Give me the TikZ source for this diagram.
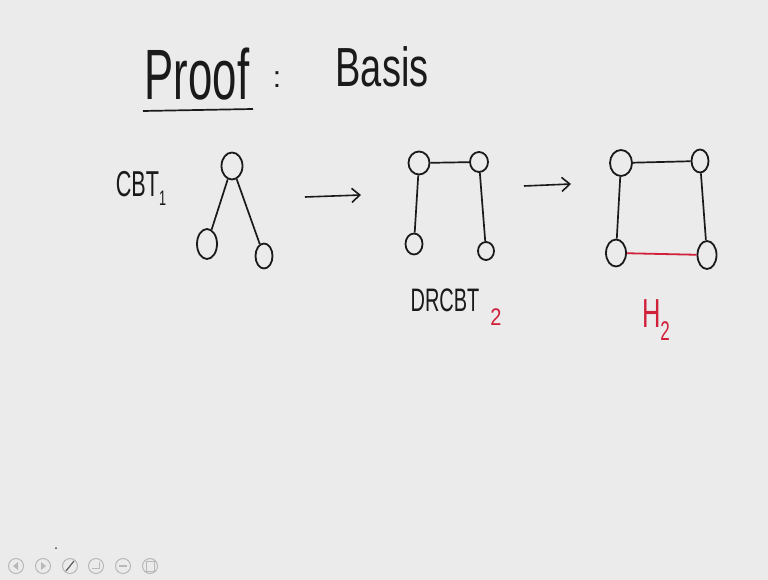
\documentclass[tikz,border=0pt]{standalone}
\usepackage{fontspec}
\setmainfont{Liberation Sans}
\usetikzlibrary{shapes.geometric,arrows.meta}
\definecolor{bg}{HTML}{EBEBEB}
\definecolor{ink}{HTML}{1A1A1A}
\definecolor{redink}{HTML}{D0203A}
\definecolor{tool}{HTML}{B8B8B8}
\tikzset{
  vert/.style={draw=ink, line width=1.8pt, ellipse, inner sep=0pt},
  edge/.style={draw=ink, line width=1.7pt},
  redge/.style={draw=redink, line width=1.8pt},
  harrow/.style={draw=ink, line width=1.6pt, -{Straight Barb[length=8pt,width=14pt]}},
  hand/.style={text=ink, inner sep=0pt},
  toolic/.style={draw=tool, line width=1pt, circle, minimum size=15pt, inner sep=0pt},
}
\begin{document}
\begin{tikzpicture}[x=1pt,y=-1pt]
\fill[bg] (0,0) rectangle (768,580);
\useasboundingbox (0,0) rectangle (768,580);

% title
\node[hand] (proof) at (197,74) {\fontsize{46}{50}\selectfont\scalebox{0.95}[1.55]{Proof}};
\coordinate (ulA) at (143,111);
\coordinate (ulB) at (253,109);
\draw[edge] (ulA) -- (ulB);
\node[hand] (colon) at (277,80) {\fontsize{30}{34}\selectfont :};
\node[hand] (basis) at (382,67) {\fontsize{38}{42}\selectfont\scalebox{1}[1.45]{Basis}};

% CBT_1
\node[hand] (cbt) at (141,188) {\fontsize{24}{28}\selectfont\scalebox{0.9}[1.5]{CBT\raisebox{-0.25em}{\fontsize{14}{16}\selectfont 1}}};
\node[vert, minimum width=21pt, minimum height=27pt] (r) at (232,166) {};
\node[vert, minimum width=20pt, minimum height=30pt] (l) at (207,244) {};
\node[vert, minimum width=17pt, minimum height=25pt] (rc) at (264,256) {};
\draw[edge] (r) -- (l);
\draw[edge] (r) -- (rc);

% arrow 1
\coordinate (a1s) at (305,197);
\coordinate (a1e) at (361,195);
\draw[harrow] (a1s) -- (a1e);

% DRCBT_2
\node[vert, minimum width=21pt, minimum height=23pt] (dtl) at (419,163) {};
\node[vert, minimum width=18pt, minimum height=20pt] (dtr) at (479,162) {};
\node[vert, minimum width=17pt, minimum height=21pt] (dbl) at (414,244) {};
\node[vert, minimum width=16pt, minimum height=18pt] (dbr) at (486,251) {};
\draw[edge] (dtl) -- (dtr);
\draw[edge] (dtl) -- (dbl);
\draw[edge] (dtr) -- (dbr);
\node[hand] (drcbt) at (445,300) {\fontsize{21}{24}\selectfont\scalebox{0.95}[1.55]{DRCBT}};
\node[hand, text=redink] (d2) at (496,317) {\fontsize{20}{22}\selectfont\scalebox{1}[1.2]{2}};

% arrow 2
\coordinate (a2s) at (524,186);
\coordinate (a2e) at (571,184);
\draw[harrow] (a2s) -- (a2e);

% H_2
\node[vert, minimum width=22pt, minimum height=26pt] (htl) at (621,163) {};
\node[vert, minimum width=17pt, minimum height=23pt] (htr) at (700,161) {};
\node[vert, minimum width=20pt, minimum height=27pt] (hbl) at (616,253) {};
\node[vert, minimum width=19pt, minimum height=28pt] (hbr) at (707,255) {};
\draw[edge] (htl) -- (htr);
\draw[edge] (htl) -- (hbl);
\draw[edge] (htr) -- (hbr);
\draw[redge] (hbl) -- (hbr);
\node[hand, text=redink] (h2) at (656,320) {\fontsize{30}{34}\selectfont\scalebox{0.85}[1.35]{H\raisebox{-0.3em}{\fontsize{20}{22}\selectfont 2}}};

% toolbar
\node[toolic] (t1) at (16,566) {};
\node[toolic] (t2) at (43,566) {};
\node[toolic] (t3) at (70,566) {};
\node[toolic] (t4) at (96,566) {};
\node[toolic] (t5) at (123,566) {};
\node[toolic] (t6) at (150,566) {};
\fill[tool] (13,566) -- (18,562) -- (18,570) -- cycle;
\fill[tool] (46,566) -- (41,562) -- (41,570) -- cycle;
\draw[ink!70, line width=1.2pt] (66,571) -- (74,561);
\draw[tool, line width=1pt] (92,568) -- (100,568) (99,562) -- (99,568);
\draw[tool, line width=1.2pt] (119,566) -- (127,566);
\draw[tool, line width=1pt] (146,561) rectangle (154,571);
\coordinate (tick) at (56,548);
\fill[ink!80] (tick) circle (1pt);
\end{tikzpicture}
\end{document}
